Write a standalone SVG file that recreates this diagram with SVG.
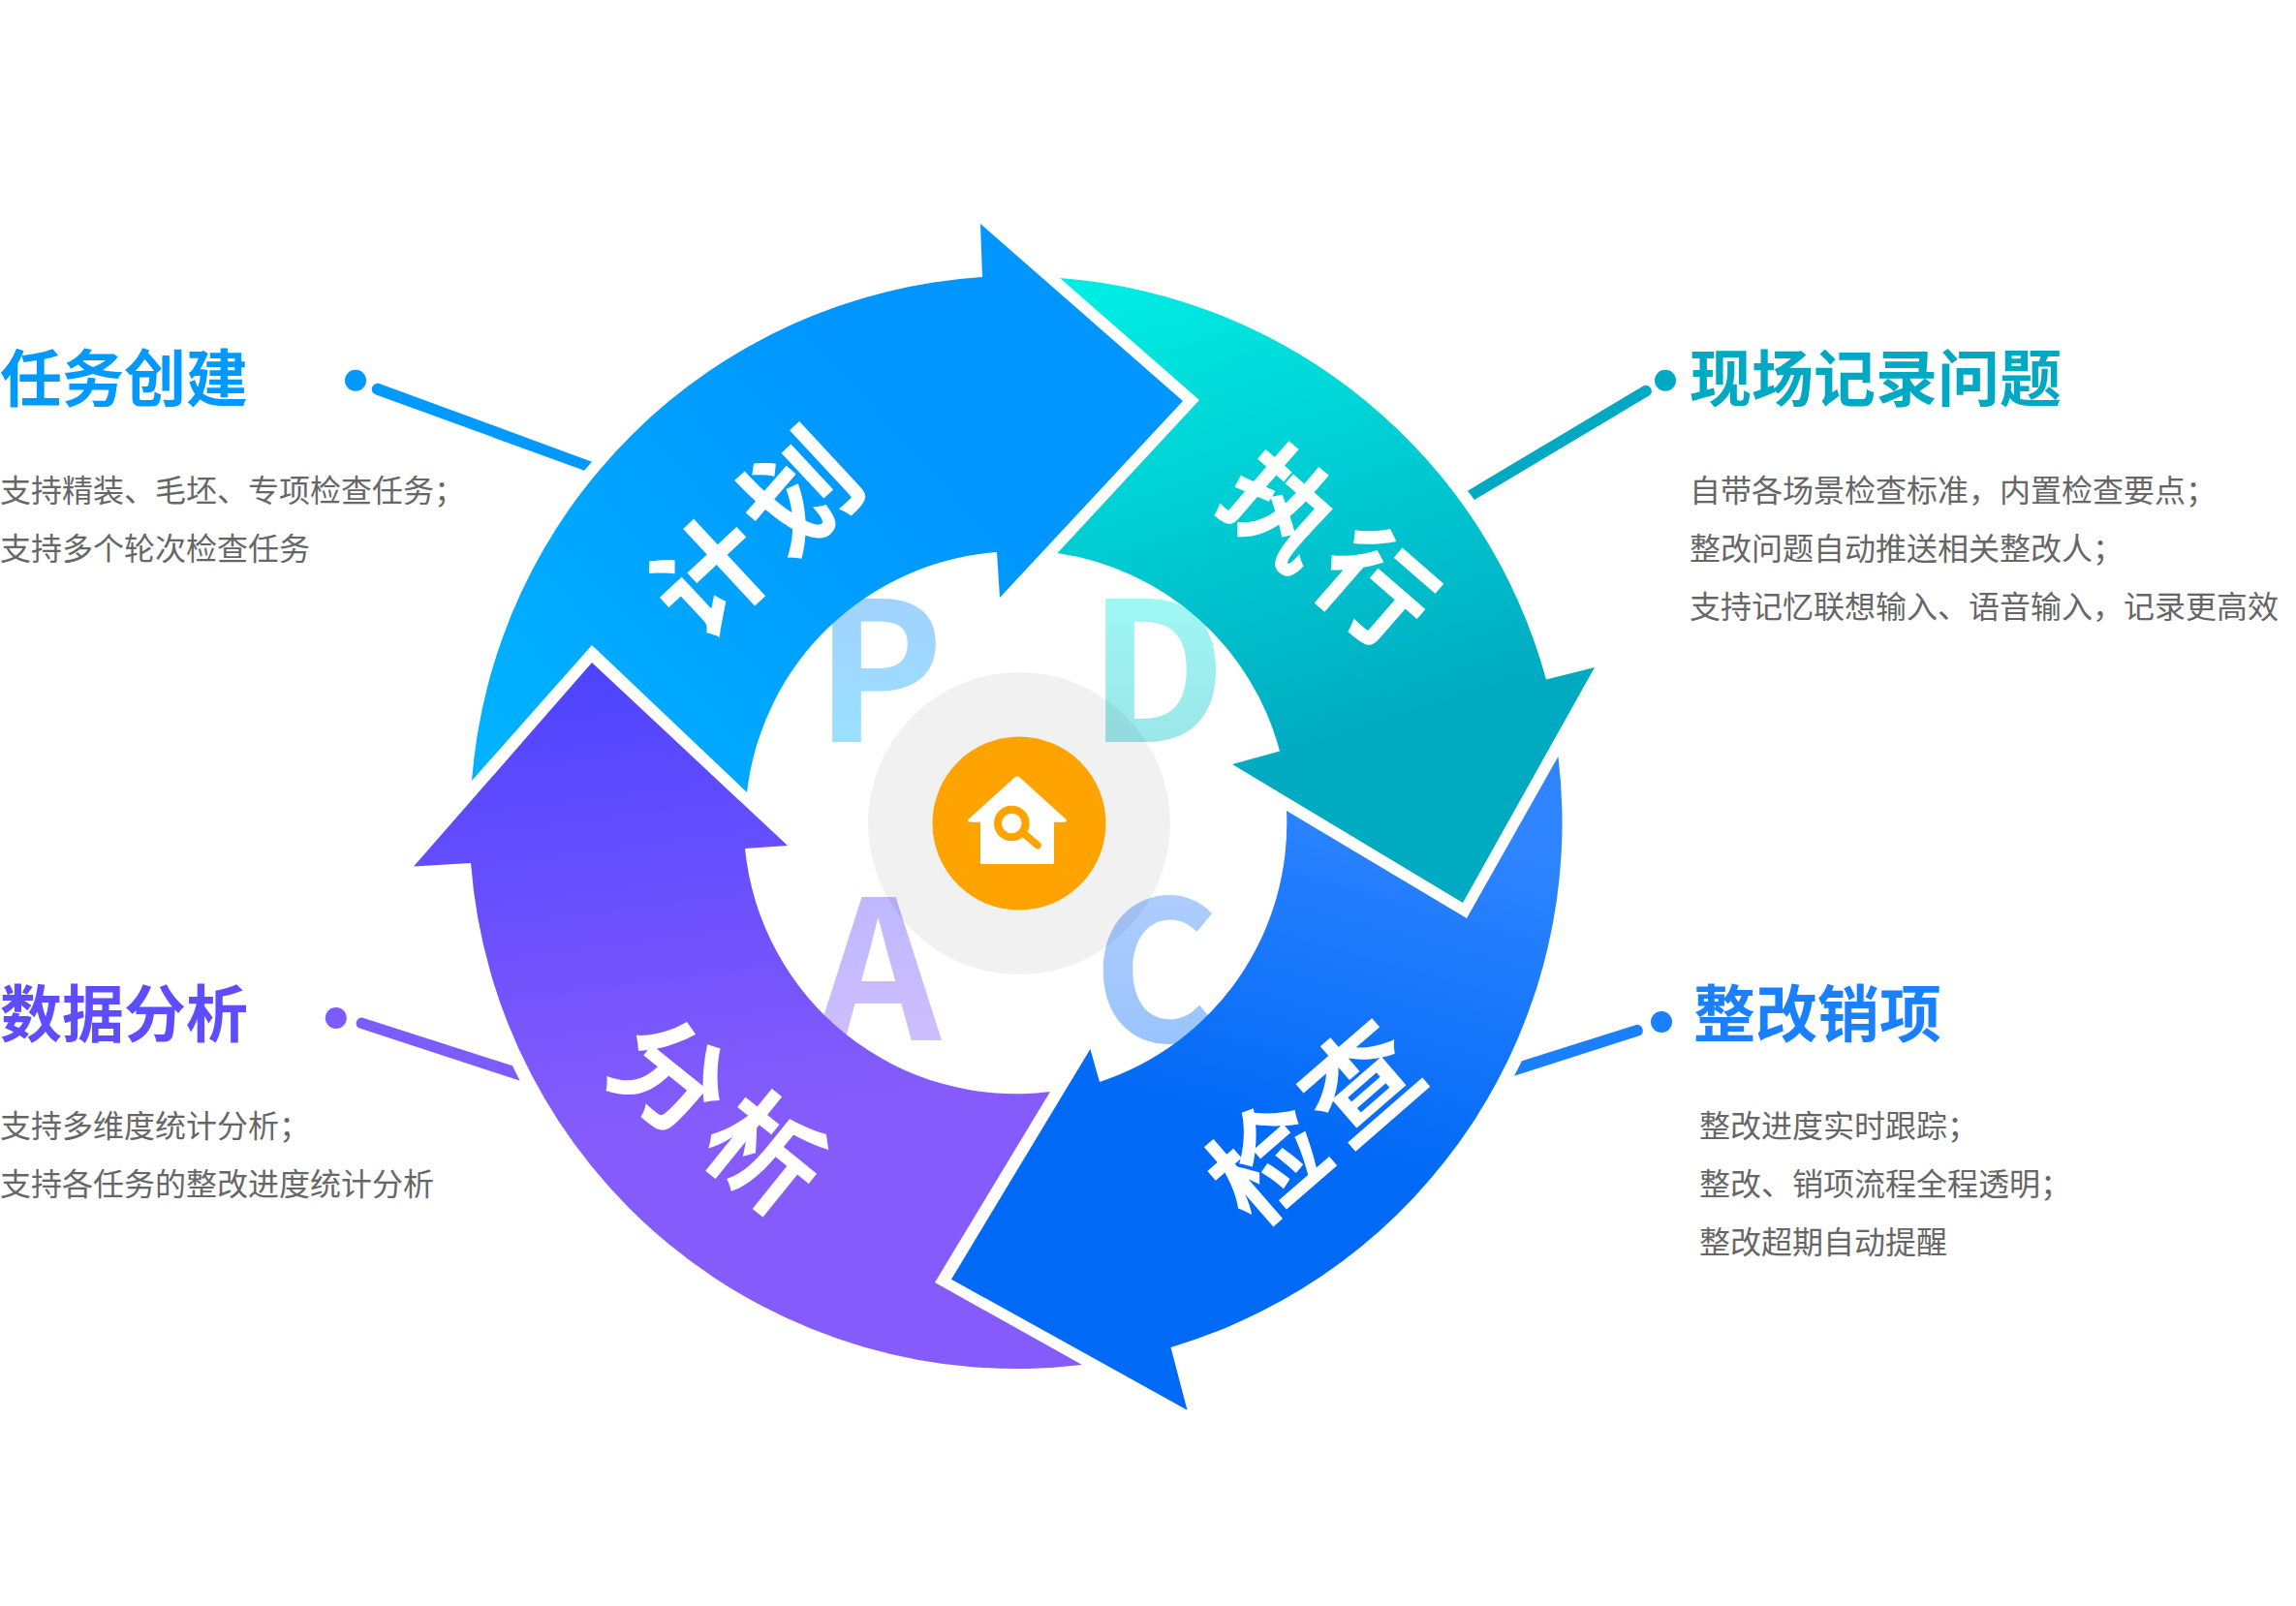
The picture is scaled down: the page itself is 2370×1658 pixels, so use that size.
<svg xmlns="http://www.w3.org/2000/svg" width="2370" height="1658" viewBox="0 0 2370 1658">
<style>
text{font-family:"Noto Sans CJK SC","Noto Sans",sans-serif}
.h{font-size:64px;font-weight:700}
.b{font-size:32px;fill:#666}
.l{font-size:116px;font-weight:700;fill:#fff;text-anchor:middle;letter-spacing:10px}
.m{font-size:200px;font-weight:700}
.ico{fill:#fff}
</style>
<defs>
<linearGradient id="gP" gradientUnits="userSpaceOnUse" x1="520" y1="790" x2="930" y2="420"><stop offset="0" stop-color="#00b2ff"/><stop offset="1" stop-color="#0095ff"/></linearGradient>
<linearGradient id="gD" gradientUnits="userSpaceOnUse" x1="1170" y1="290" x2="1330" y2="790"><stop offset="0" stop-color="#00ece3"/><stop offset="1" stop-color="#00aac1"/></linearGradient>
<linearGradient id="gC" gradientUnits="userSpaceOnUse" x1="1440" y1="830" x2="1340" y2="1190"><stop offset="0" stop-color="#2f85ff"/><stop offset="1" stop-color="#0069f6"/></linearGradient>
<linearGradient id="gA" gradientUnits="userSpaceOnUse" x1="640" y1="690" x2="700" y2="1160"><stop offset="0" stop-color="#4f44ff"/><stop offset="1" stop-color="#855cfb"/></linearGradient>
<linearGradient id="tP" gradientUnits="userSpaceOnUse" x1="0" y1="618" x2="0" y2="766"><stop offset="0" stop-color="#a1d2ff"/><stop offset="1" stop-color="#9be0ff"/></linearGradient>
<linearGradient id="tD" gradientUnits="userSpaceOnUse" x1="0" y1="618" x2="0" y2="766"><stop offset="0" stop-color="#9ef7f3"/><stop offset="1" stop-color="#9ce6ea"/></linearGradient>
<linearGradient id="tC" gradientUnits="userSpaceOnUse" x1="0" y1="923" x2="0" y2="1077"><stop offset="0" stop-color="#aecdff"/><stop offset="1" stop-color="#99c4fb"/></linearGradient>
<linearGradient id="tA" gradientUnits="userSpaceOnUse" x1="0" y1="926" x2="0" y2="1074"><stop offset="0" stop-color="#bfb8ff"/><stop offset="1" stop-color="#cdbefe"/></linearGradient>
</defs>
<rect width="2370" height="1658" fill="#fff"/>
<g id="pdca-letters">
<text class="m" x="841" y="766" fill="url(#tP)">P</text>
<text class="m" x="1123" y="766" fill="url(#tD)">D</text>
<text class="m" x="843" y="1074" fill="url(#tA)">A</text>
<text class="m" x="1128" y="1075" fill="url(#tC)">C</text>
</g>
<g id="center">
<circle cx="1052" cy="850" r="156" fill="#000" fill-opacity=".055"/>
<circle cx="1052" cy="850" r="89.500" fill="#ffa300"/>
<path class="ico" d="M1047.500 802.500Q1050 800.500 1052.500 802.500L1100.500 846Q1101.500 848.500 1099 848.800H1088V890.500Q1088 892 1086.500 892H1013.500Q1012 892 1012 890.500V848.800H1001Q998.500 848.500 999.500 846Z"/>
<circle cx="1044.300" cy="850" r="14.300" fill="none" stroke="#ffa300" stroke-width="8"/>
<path d="M1057 860.500L1071 872.700" fill="none" stroke="#ffa300" stroke-width="7.500" stroke-linecap="round"/>
</g>
<g id="node-plan">
<path fill="url(#gP)" d="M487 806A565 565 0 0 1 1014 286L1012 231L1221 414L1032 617L1029 570A281 281 0 0 0 771 818L611 666Z"/>
<text class="l" transform="translate(779 551) rotate(-43)" x="5" y="44">计划</text>
</g>
<g id="node-do">
<path fill="url(#gD)" d="M1094 287A565 565 0 0 1 1596 701.500L1646 689L1510 932L1272 789L1321 775.500A279 279 0 0 0 1091.500 571L1238 413Z"/>
<text class="l" transform="translate(1373 564.500) rotate(41)" x="5" y="44">执行</text>
</g>
<g id="node-check">
<path fill="url(#gC)" d="M1608.400 781A565 565 0 0 1 1208.500 1391L1225.500 1455.700L982 1320.700L1125.400 1083L1135 1117A281 281 0 0 0 1328 837L1514 948Z"/>
<text class="l" transform="translate(1356.500 1158) rotate(-41)" x="5" y="44">检查</text>
</g>
<g id="node-act">
<path fill="url(#gA)" d="M1117 1409A565 565 0 0 1 486 891L427 894.600L611 684L813 873L769 876A281 281 0 0 0 1084 1127L965 1324Z"/>
<text class="l" transform="translate(742 1150) rotate(39)" x="5" y="44">分析</text>
</g>
<g id="connectors">
<path fill="#0099ff" d="M391.500 396L611 476.700L603 485.700L387.500 407.300A6 6 0 0 1 391.500 396Z"/>
<circle cx="367" cy="392.700" r="11" fill="#0099ff"/>
<path fill="#00a9c3" d="M1697 398L1515 506.700L1522 516L1703 408A6 6 0 0 0 1697 398Z"/>
<circle cx="1719" cy="392.700" r="11" fill="#00a9c3"/>
<path fill="#7d5cff" d="M373.700 1050.500L529 1100.300L536.600 1115.700L369.700 1061A6 6 0 0 1 373.700 1050.500Z"/>
<circle cx="346.800" cy="1051" r="11" fill="#7d5cff"/>
<path fill="#1a80ff" d="M1689 1058L1571 1095.300L1563 1110.700L1693 1069A6 6 0 0 0 1689 1058Z"/>
<circle cx="1715" cy="1055" r="11" fill="#1a80ff"/>
</g>
<g id="label-plan">
<text class="h" x="0" y="413.500" fill="#0099ff">任务创建</text>
<text class="b" x="0" y="518">支持精装、毛坯、专项检查任务；</text>
<text class="b" x="0" y="578">支持多个轮次检查任务</text>
</g>
<g id="label-do">
<text class="h" x="1744" y="413.500" fill="#00a9c3">现场记录问题</text>
<text class="b" x="1744" y="518">自带各场景检查标准，内置检查要点；</text>
<text class="b" x="1744" y="578">整改问题自动推送相关整改人；</text>
<text class="b" x="1744" y="638">支持记忆联想输入、语音输入，记录更高效</text>
</g>
<g id="label-act">
<text class="h" x="0" y="1070" fill="#5e4dff">数据分析</text>
<text class="b" x="0" y="1174">支持多维度统计分析；</text>
<text class="b" x="0" y="1234">支持各任务的整改进度统计分析</text>
</g>
<g id="label-check">
<text class="h" x="1748" y="1070" fill="#1a80ff">整改销项</text>
<text class="b" x="1754" y="1174">整改进度实时跟踪；</text>
<text class="b" x="1754" y="1234">整改、销项流程全程透明；</text>
<text class="b" x="1754" y="1294">整改超期自动提醒</text>
</g>
</svg>
